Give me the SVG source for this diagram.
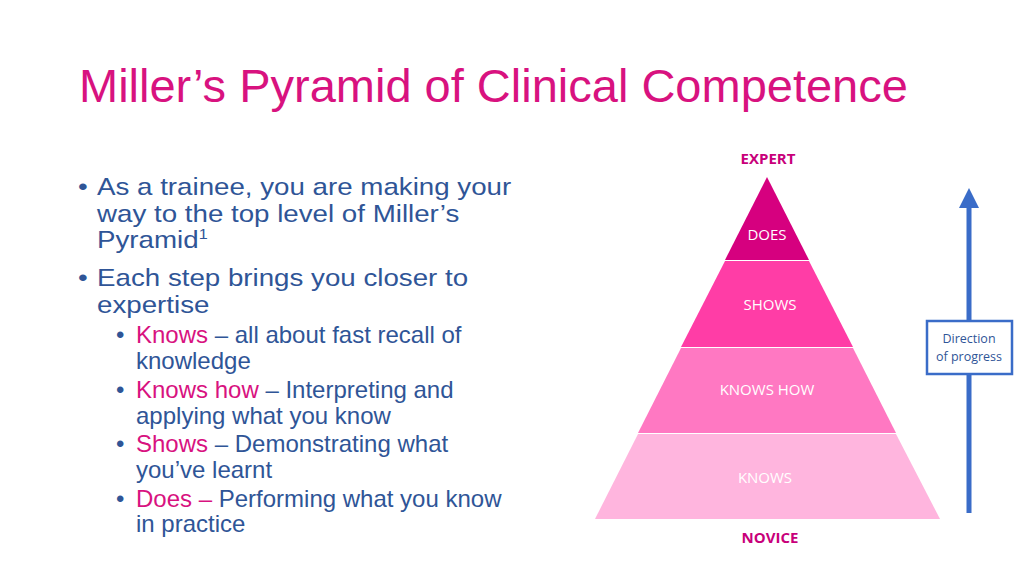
<svg xmlns="http://www.w3.org/2000/svg" width="1024" height="576" viewBox="0 0 1024 576">
<style>
.t{font-family:"Liberation Sans",Arial,sans-serif;font-size:24px;fill:#2F5597}
.p{fill:#D8127F}
.c{font-family:"Open Sans","Noto Sans",sans-serif;font-size:15px;fill:#fff;text-anchor:middle}
.e{font-family:"Open Sans","Noto Sans",sans-serif;font-size:15px;font-weight:bold;fill:#C8007A;text-anchor:middle}
</style>
<defs><marker id="ah" markerWidth="4" markerHeight="4" refX="2" refY="2" orient="auto" markerUnits="strokeWidth"><path d="M0,0L4,2L0,4z" fill="#3A6CC8"/></marker></defs>
<rect width="1024" height="576" fill="#fff"/>
<text x="79" y="102" font-family="'Liberation Sans',Arial,sans-serif" font-size="47" fill="#D8127F">Miller’s Pyramid of Clinical Competence</text>
<g id="bullets">
<g transform="translate(78,0) scale(1.155,1) translate(-78,0)">
<text class="t" x="78" y="195">•</text><text class="t" x="94.5" y="195">As a trainee, you are making your</text>
<text class="t" x="94.5" y="222">way to the top level of Miller’s</text>
<text class="t" x="94.5" y="248">Pyramid<tspan font-size="14" dy="-9">1</tspan></text>
<text class="t" x="78" y="286">•</text><text class="t" x="94.5" y="286">Each step brings you closer to</text>
<text class="t" x="94.5" y="313">expertise</text>
</g>
<text class="t" x="116" y="343">•</text><text class="t" x="136" y="343"><tspan class="p">Knows</tspan> – all about fast recall of</text>
<text class="t" x="136" y="369">knowledge</text>
<text class="t" x="116" y="398">•</text><text class="t" x="136" y="398"><tspan class="p">Knows how</tspan> – Interpreting and</text>
<text class="t" x="136" y="424">applying what you know</text>
<text class="t" x="116" y="452">•</text><text class="t" x="136" y="452"><tspan class="p">Shows</tspan> – Demonstrating what</text>
<text class="t" x="136" y="478">you’ve learnt</text>
<text class="t" x="116" y="507">•</text><text class="t" x="136" y="507"><tspan class="p">Does –</tspan> Performing what you know</text>
<text class="t" x="136" y="532">in practice</text>
</g>
<g id="expert"><text class="e" x="768" y="164">EXPERT</text></g>
<g id="novice"><text class="e" x="770" y="543">NOVICE</text></g>
<g id="does"><path d="M767,177L809,260L725,260z" fill="#D6007F"/><text class="c" x="767" y="240">DOES</text></g>
<g id="shows"><path d="M725,261L809,261L853,347L681,347z" fill="#FF3DA6"/><text class="c" x="770" y="310">SHOWS</text></g>
<g id="knowshow"><path d="M681,348L853,348L896,433L638,433z" fill="#FF78C2"/><text class="c" x="767" y="395">KNOWS HOW</text></g>
<g id="knows"><path d="M638,434L896,434L940,519L595,519z" fill="#FFB5DE"/><text class="c" x="765" y="483">KNOWS</text></g>
<g id="connectors"><line x1="969" y1="513" x2="969" y2="198" stroke="#3A6CC8" stroke-width="5" marker-end="url(#ah)"/></g>
<g id="progress"><rect x="927" y="321" width="85" height="53" fill="#fff" stroke="#3A6CC8" stroke-width="2.5"/>
<text x="969" y="343" text-anchor="middle" font-family="'Open Sans','Noto Sans',sans-serif" font-size="12.5" fill="#2F5597">Direction</text>
<text x="969" y="361" text-anchor="middle" font-family="'Open Sans','Noto Sans',sans-serif" font-size="12.5" fill="#2F5597">of progress</text></g>
</svg>
